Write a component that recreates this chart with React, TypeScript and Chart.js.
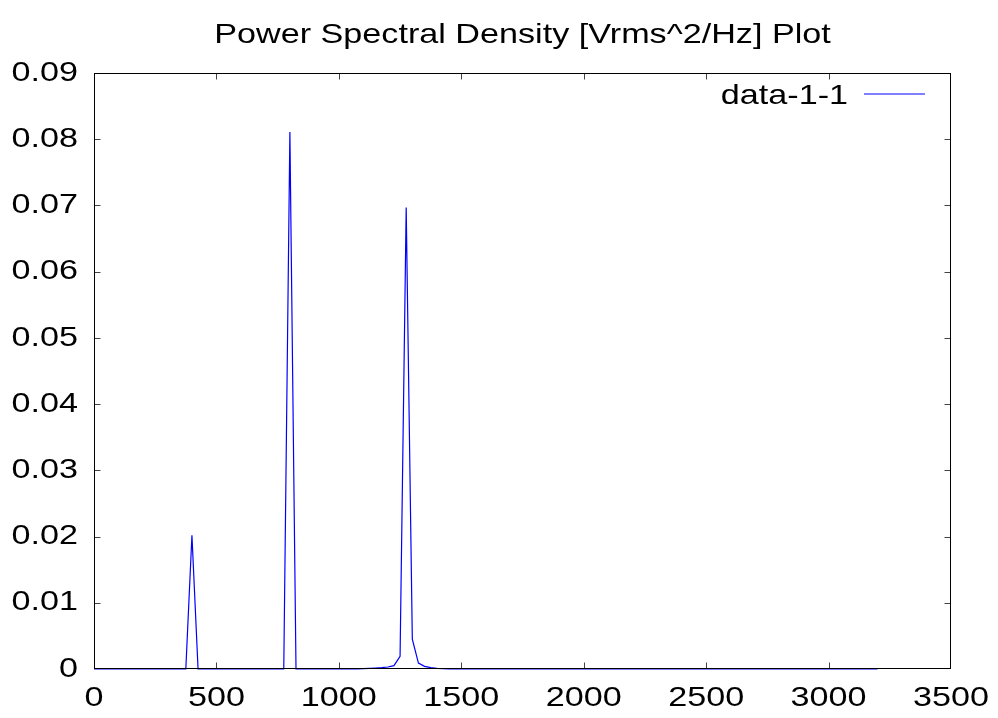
import React, { useEffect, useRef } from "react";
import { Chart, registerables } from "chart.js";

Chart.register(...registerables);

const TITLE = "Power Spectral Density [Vrms^2/Hz] Plot";
const SERIES_LABEL = "data-1-1";

const xTicksHz = [0, 500, 1000, 1500, 2000, 2500, 3000, 3500];
const yTicks = [0, 0.01, 0.02, 0.03, 0.04, 0.05, 0.06, 0.07, 0.08, 0.09];

const freqHz = [
  0, 25, 50, 75, 100, 125, 150, 175, 200, 225, 250, 275, 300, 325, 350, 375,
  400, 425, 450, 475, 500, 525, 550, 575, 600, 625, 650, 675, 700, 725, 750, 775,
  800, 825, 850, 875, 900, 925, 950, 975, 1000, 1025, 1050, 1075, 1100, 1125, 1150, 1175,
  1200, 1225, 1250, 1275, 1300, 1325, 1350, 1375, 1400, 1425, 1450, 1475, 1500, 1525, 1550, 1575,
  1600, 1625, 1650, 1675, 1700, 1725, 1750, 1775, 1800, 1825, 1850, 1875, 1900, 1925, 1950, 1975,
  2000, 2025, 2050, 2075, 2100, 2125, 2150, 2175, 2200, 2225, 2250, 2275, 2300, 2325, 2350, 2375,
  2400, 2425, 2450, 2475, 2500, 2525, 2550, 2575, 2600, 2625, 2650, 2675, 2700, 2725, 2750, 2775,
  2800, 2825, 2850, 2875, 2900, 2925, 2950, 2975, 3000, 3025, 3050, 3075, 3100, 3125, 3150, 3175,
  3200,
];

const psd = [
  0, 0, 0, 0, 0, 0, 0, 0, 0, 0, 0, 0, 0, 0, 0, 0,
  0.0202, 0, 0, 0, 0, 0, 0, 0, 0, 0, 0, 0, 0, 0, 0, 0,
  0.0811, 0, 0, 0, 0, 0, 0, 0, 0, 0, 0, 0, 0.00005, 0.0001, 0.00015, 0.0002,
  0.0003, 0.0005, 0.0019, 0.0697, 0.0045, 0.0009, 0.0004, 0.0002, 0.0001, 0.00005, 0, 0, 0, 0, 0, 0,
  0, 0, 0, 0, 0, 0, 0, 0, 0, 0, 0, 0, 0, 0, 0, 0,
  0, 0, 0, 0, 0, 0, 0, 0, 0, 0, 0, 0, 0, 0, 0, 0,
  0, 0, 0, 0, 0, 0, 0, 0, 0, 0, 0, 0, 0, 0, 0, 0,
  0, 0, 0, 0, 0, 0, 0, 0, 0, 0, 0, 0, 0, 0, 0, 0,
  0,
];

const FONT = "28px 'Liberation Sans', Arial, sans-serif";
const SX = 1.22;
const TICK_LEN = 6;

function stretchedText(ctx: CanvasRenderingContext2D, text: string, x: number, y: number, align: CanvasTextAlign, baseline: CanvasTextBaseline) {
  ctx.save();
  ctx.translate(x, y);
  ctx.scale(SX, 1);
  ctx.textAlign = align;
  ctx.textBaseline = baseline;
  ctx.fillText(text, 0, 0);
  ctx.restore();
}

function fmtY(v: number) {
  const r = Math.round(v * 100) / 100;
  return r === 0 ? "0" : r.toFixed(2);
}

const gnuplotFrame = {
  id: "gnuplotFrame",
  afterDatasetsDraw(chart: any) {
    const ctx: CanvasRenderingContext2D = chart.ctx;
    const { left, right, top, bottom } = chart.chartArea;
    const xs = chart.scales.x;
    const ys = chart.scales.y;
    const L = left + 0.5;
    const R = right - 0.5;
    const T = top + 0.5;
    const B = bottom - 0.5;
    ctx.save();
    // inward ticks
    ctx.strokeStyle = "#444";
    ctx.lineWidth = 1;
    ctx.beginPath();
    xTicksHz.forEach((v) => {
      const px = Math.min(R, Math.max(L, Math.round(xs.getPixelForValue(v)) + 0.5));
      ctx.moveTo(px, B);
      ctx.lineTo(px, B - TICK_LEN);
      ctx.moveTo(px, T);
      ctx.lineTo(px, T + TICK_LEN);
    });
    yTicks.forEach((v) => {
      const py = Math.min(B, Math.max(T, Math.round(ys.getPixelForValue(v)) + 0.5));
      ctx.moveTo(L, py);
      ctx.lineTo(L + TICK_LEN, py);
      ctx.moveTo(R, py);
      ctx.lineTo(R - TICK_LEN, py);
    });
    ctx.stroke();
    // border
    ctx.strokeStyle = "#000";
    ctx.strokeRect(L, T, R - L, B - T);

    // labels
    ctx.fillStyle = "#000";
    ctx.font = FONT;
    yTicks.forEach((v) => {
      stretchedText(ctx, fmtY(v), left - 16, ys.getPixelForValue(v), "right", "middle");
    });
    xTicksHz.forEach((v) => {
      stretchedText(ctx, String(v), xs.getPixelForValue(v), bottom + 37, "center", "alphabetic");
    });
    // title
    stretchedText(ctx, TITLE, (left + right) / 2, 43, "center", "alphabetic");
    // legend
    stretchedText(ctx, SERIES_LABEL, 848, 96, "right", "middle");
    ctx.strokeStyle = "#0000ff";
    ctx.lineWidth = 1.2;
    ctx.beginPath();
    ctx.moveTo(864, 94);
    ctx.lineTo(925, 94);
    ctx.stroke();
    ctx.restore();
  },
};

export default function App() {
  const ref = useRef<HTMLCanvasElement | null>(null);
  useEffect(() => {
    if (!ref.current) return;
    const points = freqHz.map((f, i) => ({ x: f, y: psd[i] }));
    const chart = new Chart(ref.current, {
      type: "line",
      data: {
        datasets: [
          {
            label: SERIES_LABEL,
            data: points,
            borderColor: "#0000ff",
            borderWidth: 1.2,
            pointRadius: 0,
            tension: 0,
            fill: false,
            clip: 2,
          } as any,
        ],
      },
      options: {
        animation: false,
        responsive: false,
        maintainAspectRatio: false,
        layout: { padding: { left: 0, right: 47, top: 73, bottom: 0 } },
        plugins: {
          legend: { display: false },
          title: { display: false },
          tooltip: { enabled: false },
        },
        scales: {
          x: {
            type: "linear",
            min: 0,
            max: 3500,
            ticks: { display: false, stepSize: 500 },
            grid: { display: false, drawTicks: false },
            border: { display: false },
            afterFit: (s: any) => {
              s.height = 49;
            },
          },
          y: {
            type: "linear",
            min: 0,
            max: 0.09,
            ticks: { display: false, stepSize: 0.01 },
            grid: { display: false, drawTicks: false },
            border: { display: false },
            afterFit: (s: any) => {
              s.width = 94;
            },
          },
        },
      },
      plugins: [gnuplotFrame],
    });
    return () => chart.destroy();
  }, []);
  return (
    <div style={{ position: "fixed", left: 0, top: 0, width: 998, height: 718, background: "#fff" }}>
      <canvas ref={ref} width={998} height={718} style={{ width: 998, height: 718, display: "block" }} />
    </div>
  );
}
